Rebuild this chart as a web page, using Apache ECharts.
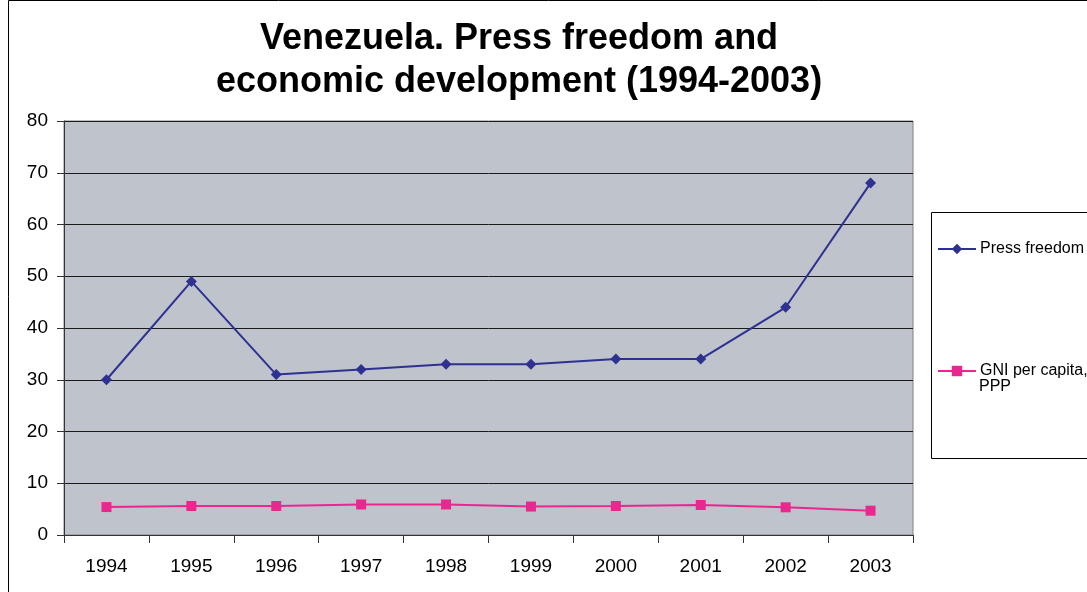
<!DOCTYPE html>
<html>
<head>
<meta charset="utf-8">
<script src="https://cdn.jsdelivr.net/npm/echarts@6/dist/echarts.min.js"></script>
<style>
  html, body { margin: 0; padding: 0; background: #ffffff; }
  #chart { width: 1087px; height: 592px; }
</style>
</head>
<body>
<div id="chart"></div>
<script>
// Years on the category axis
const years = ['1994', '1995', '1996', '1997', '1998', '1999', '2000', '2001', '2002', '2003'];
// Press freedom score per year
const pressFreedom = [30, 49, 31, 32, 33, 33, 34, 34, 44, 68];
// GNI per capita, PPP (thousands)
const gniPerCapita = [5.4, 5.6, 5.6, 5.9, 5.9, 5.5, 5.6, 5.8, 5.35, 4.7];
// Value axis ticks
const yMin = 0, yMax = 80, yStep = 10;

const chart = echarts.init(document.getElementById('chart'), null, { renderer: 'canvas' });
const font = 'Liberation Sans, Arial, sans-serif';

chart.setOption({
  backgroundColor: '#ffffff',
  animation: false,
  title: {
    text: 'Venezuela. Press freedom and\neconomic development (1994-2003)',
    left: 514,
    top: 13,
    textAlign: 'center',
    textStyle: { fontFamily: font, fontWeight: 'bold', fontSize: 36, lineHeight: 43, color: '#000000' }
  },
  graphic: [
    // outer chart frame
    { type: 'rect', shape: { x: 8.5, y: 0.5, width: 1100, height: 600 }, style: { fill: null, stroke: '#000000', lineWidth: 1 }, z: 0 },
    // legend frame
    { type: 'rect', shape: { x: 931.5, y: 212.5, width: 170, height: 246 }, style: { fill: '#ffffff', stroke: '#000000', lineWidth: 1 }, z: 0 },
    // second line of the GNI legend entry
    { type: 'text', x: 979, y: 379, style: { text: 'PPP', fontFamily: font, fontSize: 16, fill: '#000000' }, z: 10 }
  ],
  legend: {
    orient: 'vertical',
    left: 937,
    top: 240,
    padding: 0,
    itemGap: 104,
    itemWidth: 38,
    itemHeight: 13,
    textStyle: { fontFamily: font, fontSize: 16, color: '#000000', lineHeight: 18, padding: [0, 0, 0, -1] },
    formatter: function (name) { return name === 'GNI per capita, PPP' ? 'GNI per capita,' : name; },
    data: ['Press freedom', 'GNI per capita, PPP']
  },
  grid: {
    left: 64, right: 174, top: 121, bottom: 57,
    show: true, backgroundColor: '#BFC3CB', borderColor: '#808080', borderWidth: 1
  },
  xAxis: {
    type: 'category',
    data: years,
    boundaryGap: true,
    axisLine: { show: true, lineStyle: { color: '#333333', width: 1 } },
    axisTick: { show: true, inside: false, length: 8, alignWithLabel: false, lineStyle: { color: '#333333' } },
    axisLabel: { fontFamily: font, fontSize: 19, color: '#000000', margin: 22 },
    splitLine: { show: false }
  },
  yAxis: {
    type: 'value',
    min: yMin, max: yMax, interval: yStep,
    axisLine: { show: true, lineStyle: { color: '#333333', width: 1 } },
    axisTick: { show: true, length: 7, lineStyle: { color: '#333333' } },
    axisLabel: { fontFamily: font, fontSize: 19, color: '#000000', margin: 16 },
    splitLine: { show: true, lineStyle: { color: '#1a1a1a', width: 1 } }
  },
  series: [
    {
      name: 'Press freedom',
      type: 'line',
      data: pressFreedom,
      symbol: 'diamond',
      symbolSize: 11,
      itemStyle: { color: '#2E3192' },
      lineStyle: { color: '#2E3192', width: 2 }
    },
    {
      name: 'GNI per capita, PPP',
      type: 'line',
      data: gniPerCapita,
      symbol: 'rect',
      symbolSize: 10,
      itemStyle: { color: '#E8288E' },
      lineStyle: { color: '#E8288E', width: 2 }
    }
  ]
});
</script>
</body>
</html>
